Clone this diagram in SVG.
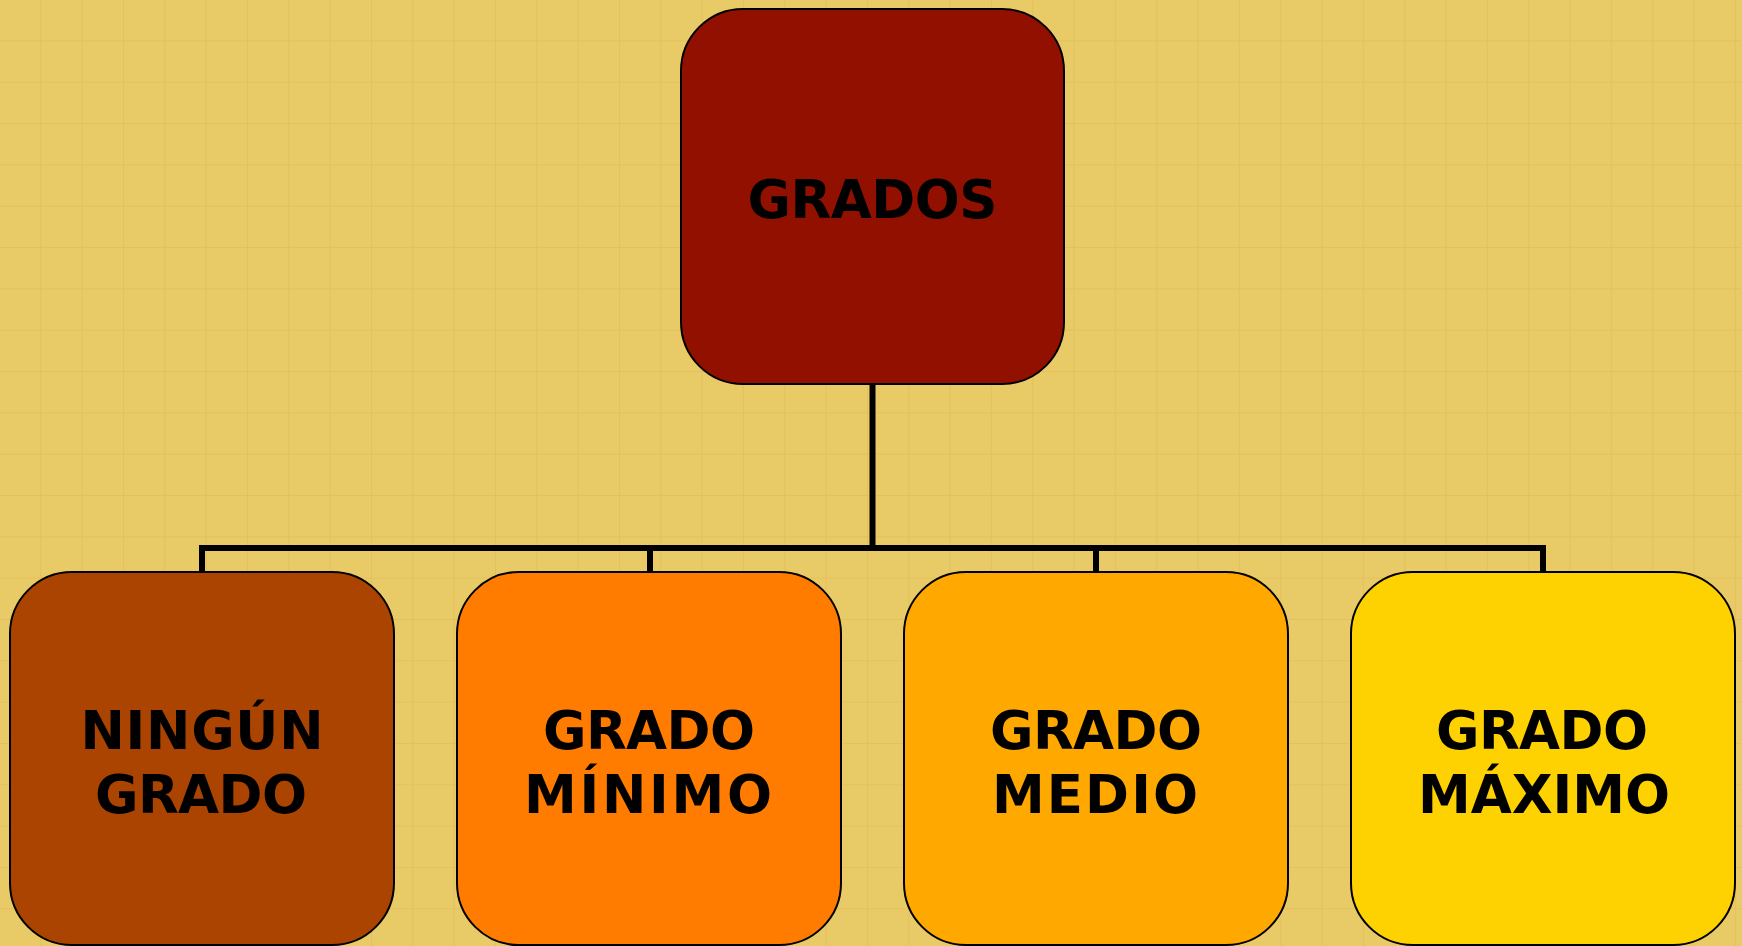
<svg xmlns="http://www.w3.org/2000/svg" width="1742" height="946" viewBox="0 0 1742 946">
  <defs>
    <pattern id="grid" x="0" y="0" width="41.33" height="41.33" patternUnits="userSpaceOnUse">
      <rect width="41.33" height="41.33" fill="#E8CA66"/>
      <path d="M41.33 0V41.33M0 41.33H41.33" stroke="#E4C15C" stroke-width="2" fill="none"/>
    </pattern>
  </defs>
  <style>
    .box { stroke: #000; stroke-width: 2; }
    .lbl { font-family: "DejaVu Sans", Verdana, sans-serif; font-weight: bold; font-size: 53px; fill: #000; text-anchor: middle; }
    .conn { fill: none; stroke: #000; stroke-width: 6; stroke-linejoin: miter; stroke-linecap: butt; }
  </style>
  <rect width="1742" height="946" fill="url(#grid)"/>
  <g id="connectors">
    <path class="conn" d="M872.5 384V548"/>
    <path class="conn" d="M202 572V548H1543V572"/>
    <path class="conn" d="M650 572V548"/>
    <path class="conn" d="M1096 572V548"/>
  </g>
  <g id="grados">
    <rect class="box" x="681" y="9" width="383" height="375" rx="62" ry="62" fill="#921000"/>
    <text class="lbl" x="872.5" y="218" textLength="250" lengthAdjust="spacing">GRADOS</text>
  </g>
  <g id="ningun-grado">
    <rect class="box" x="10" y="572" width="384" height="373" rx="62" ry="62" fill="#AA4400"/>
    <text class="lbl" x="202" y="749" textLength="243" lengthAdjust="spacing">NINGÚN</text>
    <text class="lbl" x="201" y="813" textLength="212" lengthAdjust="spacing">GRADO</text>
  </g>
  <g id="grado-minimo">
    <rect class="box" x="457" y="572" width="384" height="373" rx="62" ry="62" fill="#FF7C00"/>
    <text class="lbl" x="649" y="749" textLength="212" lengthAdjust="spacing">GRADO</text>
    <text class="lbl" x="648" y="813" textLength="248" lengthAdjust="spacing">MÍNIMO</text>
  </g>
  <g id="grado-medio">
    <rect class="box" x="904" y="572" width="384" height="373" rx="62" ry="62" fill="#FEA800"/>
    <text class="lbl" x="1096" y="749" textLength="212" lengthAdjust="spacing">GRADO</text>
    <text class="lbl" x="1095" y="813" textLength="206" lengthAdjust="spacing">MEDIO</text>
  </g>
  <g id="grado-maximo">
    <rect class="box" x="1351" y="572" width="384" height="373" rx="62" ry="62" fill="#FED200"/>
    <text class="lbl" x="1542" y="749" textLength="212" lengthAdjust="spacing">GRADO</text>
    <text class="lbl" x="1544" y="813" textLength="252" lengthAdjust="spacing">MÁXIMO</text>
  </g>
</svg>
